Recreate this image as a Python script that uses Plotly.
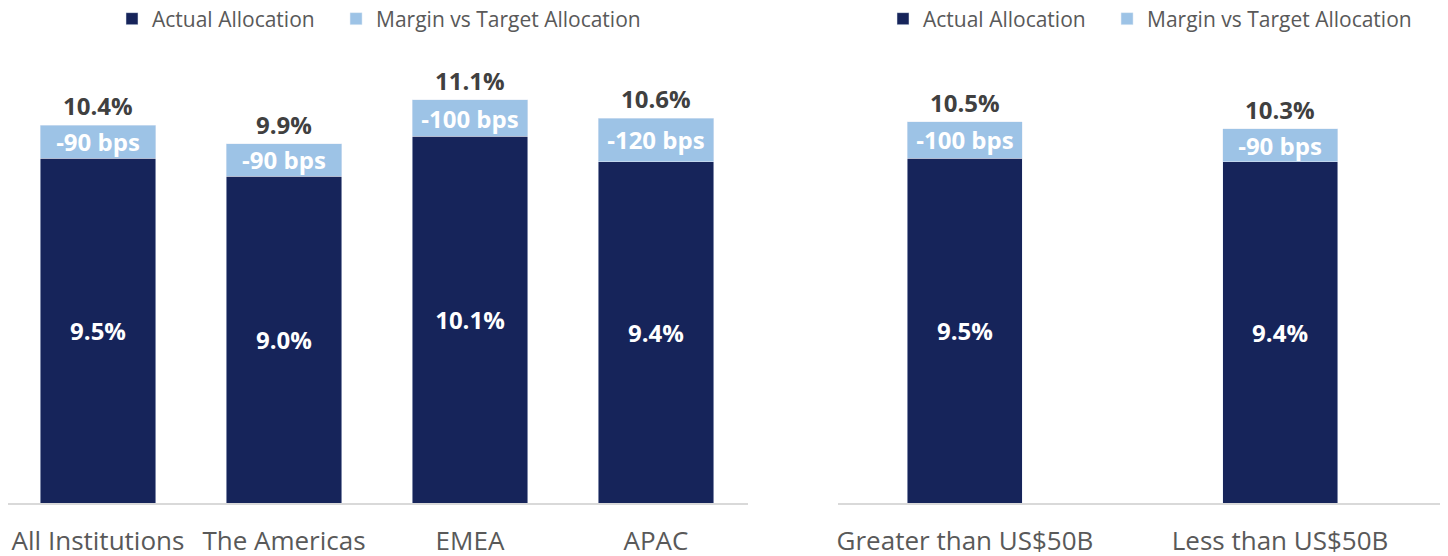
import plotly.graph_objects as go

# left panel: by region
regions = ["All Institutions", "The Americas", "EMEA", "APAC"]
region_actual = [9.5, 9.0, 10.1, 9.4]
region_target = [10.4, 9.9, 11.1, 10.6]

# right panel: by AUM size
sizes = ["Greater than US$50B", "Less than US$50B"]
size_actual = [9.5, 9.4]
size_target = [10.5, 10.3]

NAVY = "#16245a"
LIGHT = "#9dc3e6"
GREY = "#404040"
FONT = "Open Sans"

# the page body adds an 8px margin, so the figure is a bit smaller than the window
W, H = 1440, 548
T, B = 52, 53
PAD = "\u00a0" * 3  # widen the gap between the two legend entries

annotations = []


def add_panel(fig, cats, actual, target, xaxis, yaxis, legend, width):
    margin = [round(t - a, 2) for a, t in zip(actual, target)]
    fig.add_trace(go.Bar(
        name="Actual Allocation" + PAD, x=cats, y=actual, width=width,
        marker_color=NAVY, xaxis=xaxis, yaxis=yaxis, legend=legend,
        text=[f"{v:.1f}%" for v in actual], textposition="inside",
        insidetextanchor="middle", textangle=0, constraintext="none",
        textfont=dict(color="white", size=24, family=FONT, weight="bold"),
    ))
    fig.add_trace(go.Bar(
        name="Margin vs Target Allocation", x=cats, y=margin, width=width,
        marker_color=LIGHT, xaxis=xaxis, yaxis=yaxis, legend=legend,
        text=[f"-{round(m * 100):d} bps" for m in margin], textposition="inside",
        insidetextanchor="middle", textangle=0, constraintext="none",
        textfont=dict(color="white", size=24, family=FONT, weight="bold"),
    ))
    # totals above the stacks
    for c, t in zip(cats, target):
        annotations.append(dict(
            x=c, y=t, xref=xaxis, yref=yaxis, text=f"{t:.1f}%", showarrow=False,
            yanchor="bottom", yshift=1,
            font=dict(color=GREY, size=24, family=FONT, weight="bold"),
        ))


fig = go.Figure()
add_panel(fig, regions, region_actual, region_target, "x", "y", "legend", 0.62)
add_panel(fig, sizes, size_actual, size_target, "x2", "y2", "legend2", 0.365)

xstyle = dict(showline=True, linecolor="#d9d9d9", linewidth=1.5, showgrid=False,
              ticks="", ticklabelstandoff=14, fixedrange=True,
              tickfont=dict(size=26, family=FONT, color="#595959"))
ystyle = dict(range=[0, 12.2], visible=False, showgrid=False, zeroline=False)

legend_style = dict(orientation="h", yref="paper", y=1 + (T - 11) / (H - T - B),
                    yanchor="middle", xanchor="left", bgcolor="rgba(0,0,0,0)",
                    traceorder="normal", itemwidth=30,
                    font=dict(size=21, family=FONT, color="#595959"))

fig.update_layout(
    width=W, height=H,
    margin=dict(l=0, r=0, t=T, b=B, autoexpand=False),
    paper_bgcolor="white", plot_bgcolor="white",
    barmode="stack",
    xaxis=dict(domain=[0, 740 / W], range=[-0.484, 3.495], **xstyle),
    xaxis2=dict(domain=[830 / W, 1434 / W], range=[-0.403, 1.514], anchor="y2", **xstyle),
    yaxis=dict(**ystyle),
    yaxis2=dict(anchor="x2", **ystyle),
    legend=dict(x=104 / W, **legend_style),
    legend2=dict(x=875 / W, **legend_style),
    annotations=annotations,
    font=dict(family=FONT),
)

fig.write_html("out.html")
